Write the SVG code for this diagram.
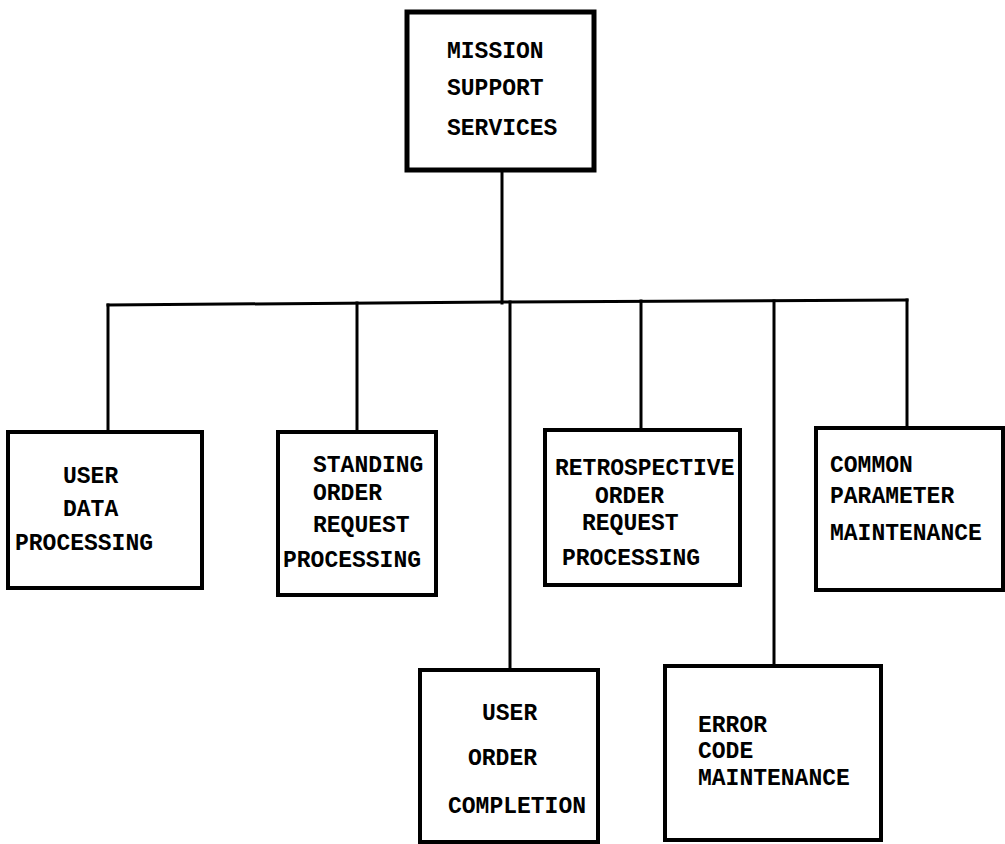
<svg xmlns="http://www.w3.org/2000/svg" width="1005" height="844" viewBox="0 0 1005 844">
  <style>
    .box { fill: #ffffff; stroke: #000000; stroke-width: 4; }
    .wire { fill: none; stroke: #000000; stroke-width: 3; stroke-linecap: square; }
    .lbl { font-family: "Liberation Mono", "Courier New", monospace; font-weight: bold; font-size: 23px; fill: #000000; }
  </style>
  <rect width="1005" height="844" fill="#ffffff"/>

  <!-- connectors: stem, bus and drops -->
  <g id="connectors">
    <line class="wire" x1="502" y1="170" x2="502" y2="303"/>
    <polyline class="wire" points="108,305 500,302 907,300"/>
    <line class="wire" x1="108" y1="305" x2="108" y2="432"/>
    <line class="wire" x1="357" y1="303" x2="357" y2="432"/>
    <line class="wire" x1="510" y1="302" x2="510" y2="670"/>
    <line class="wire" x1="641" y1="301" x2="641" y2="430"/>
    <line class="wire" x1="774" y1="301" x2="774" y2="666"/>
    <line class="wire" x1="907" y1="300" x2="907" y2="428"/>
  </g>

  <g id="mission-support-services">
    <rect class="box" x="407" y="12" width="187" height="158" style="stroke-width:5"/>
    <text class="lbl" x="447" y="58">MISSION</text>
    <text class="lbl" x="447" y="95">SUPPORT</text>
    <text class="lbl" x="447" y="135">SERVICES</text>
  </g>

  <g id="user-data-processing">
    <rect class="box" x="8" y="432" width="194" height="156"/>
    <text class="lbl" x="63" y="483">USER</text>
    <text class="lbl" x="63" y="516">DATA</text>
    <text class="lbl" x="15" y="550">PROCESSING</text>
  </g>

  <g id="standing-order-request-processing">
    <rect class="box" x="278" y="432" width="158" height="163"/>
    <text class="lbl" x="313" y="472">STANDING</text>
    <text class="lbl" x="313" y="500">ORDER</text>
    <text class="lbl" x="313" y="532">REQUEST</text>
    <text class="lbl" x="283" y="567">PROCESSING</text>
  </g>

  <g id="retrospective-order-request-processing">
    <rect class="box" x="545" y="430" width="195" height="155"/>
    <text class="lbl" x="555" y="475">RETROSPECTIVE</text>
    <text class="lbl" x="595" y="503">ORDER</text>
    <text class="lbl" x="582" y="530">REQUEST</text>
    <text class="lbl" x="562" y="565">PROCESSING</text>
  </g>

  <g id="common-parameter-maintenance">
    <rect class="box" x="816" y="428" width="187" height="162"/>
    <text class="lbl" x="830" y="472">COMMON</text>
    <text class="lbl" x="830" y="503">PARAMETER</text>
    <text class="lbl" x="830" y="540">MAINTENANCE</text>
  </g>

  <g id="user-order-completion">
    <rect class="box" x="420" y="670" width="178" height="172"/>
    <text class="lbl" x="482" y="720">USER</text>
    <text class="lbl" x="468" y="765">ORDER</text>
    <text class="lbl" x="448" y="813">COMPLETION</text>
  </g>

  <g id="error-code-maintenance">
    <rect class="box" x="665" y="666" width="216" height="174"/>
    <text class="lbl" x="698" y="732">ERROR</text>
    <text class="lbl" x="698" y="758">CODE</text>
    <text class="lbl" x="698" y="785">MAINTENANCE</text>
  </g>
</svg>
